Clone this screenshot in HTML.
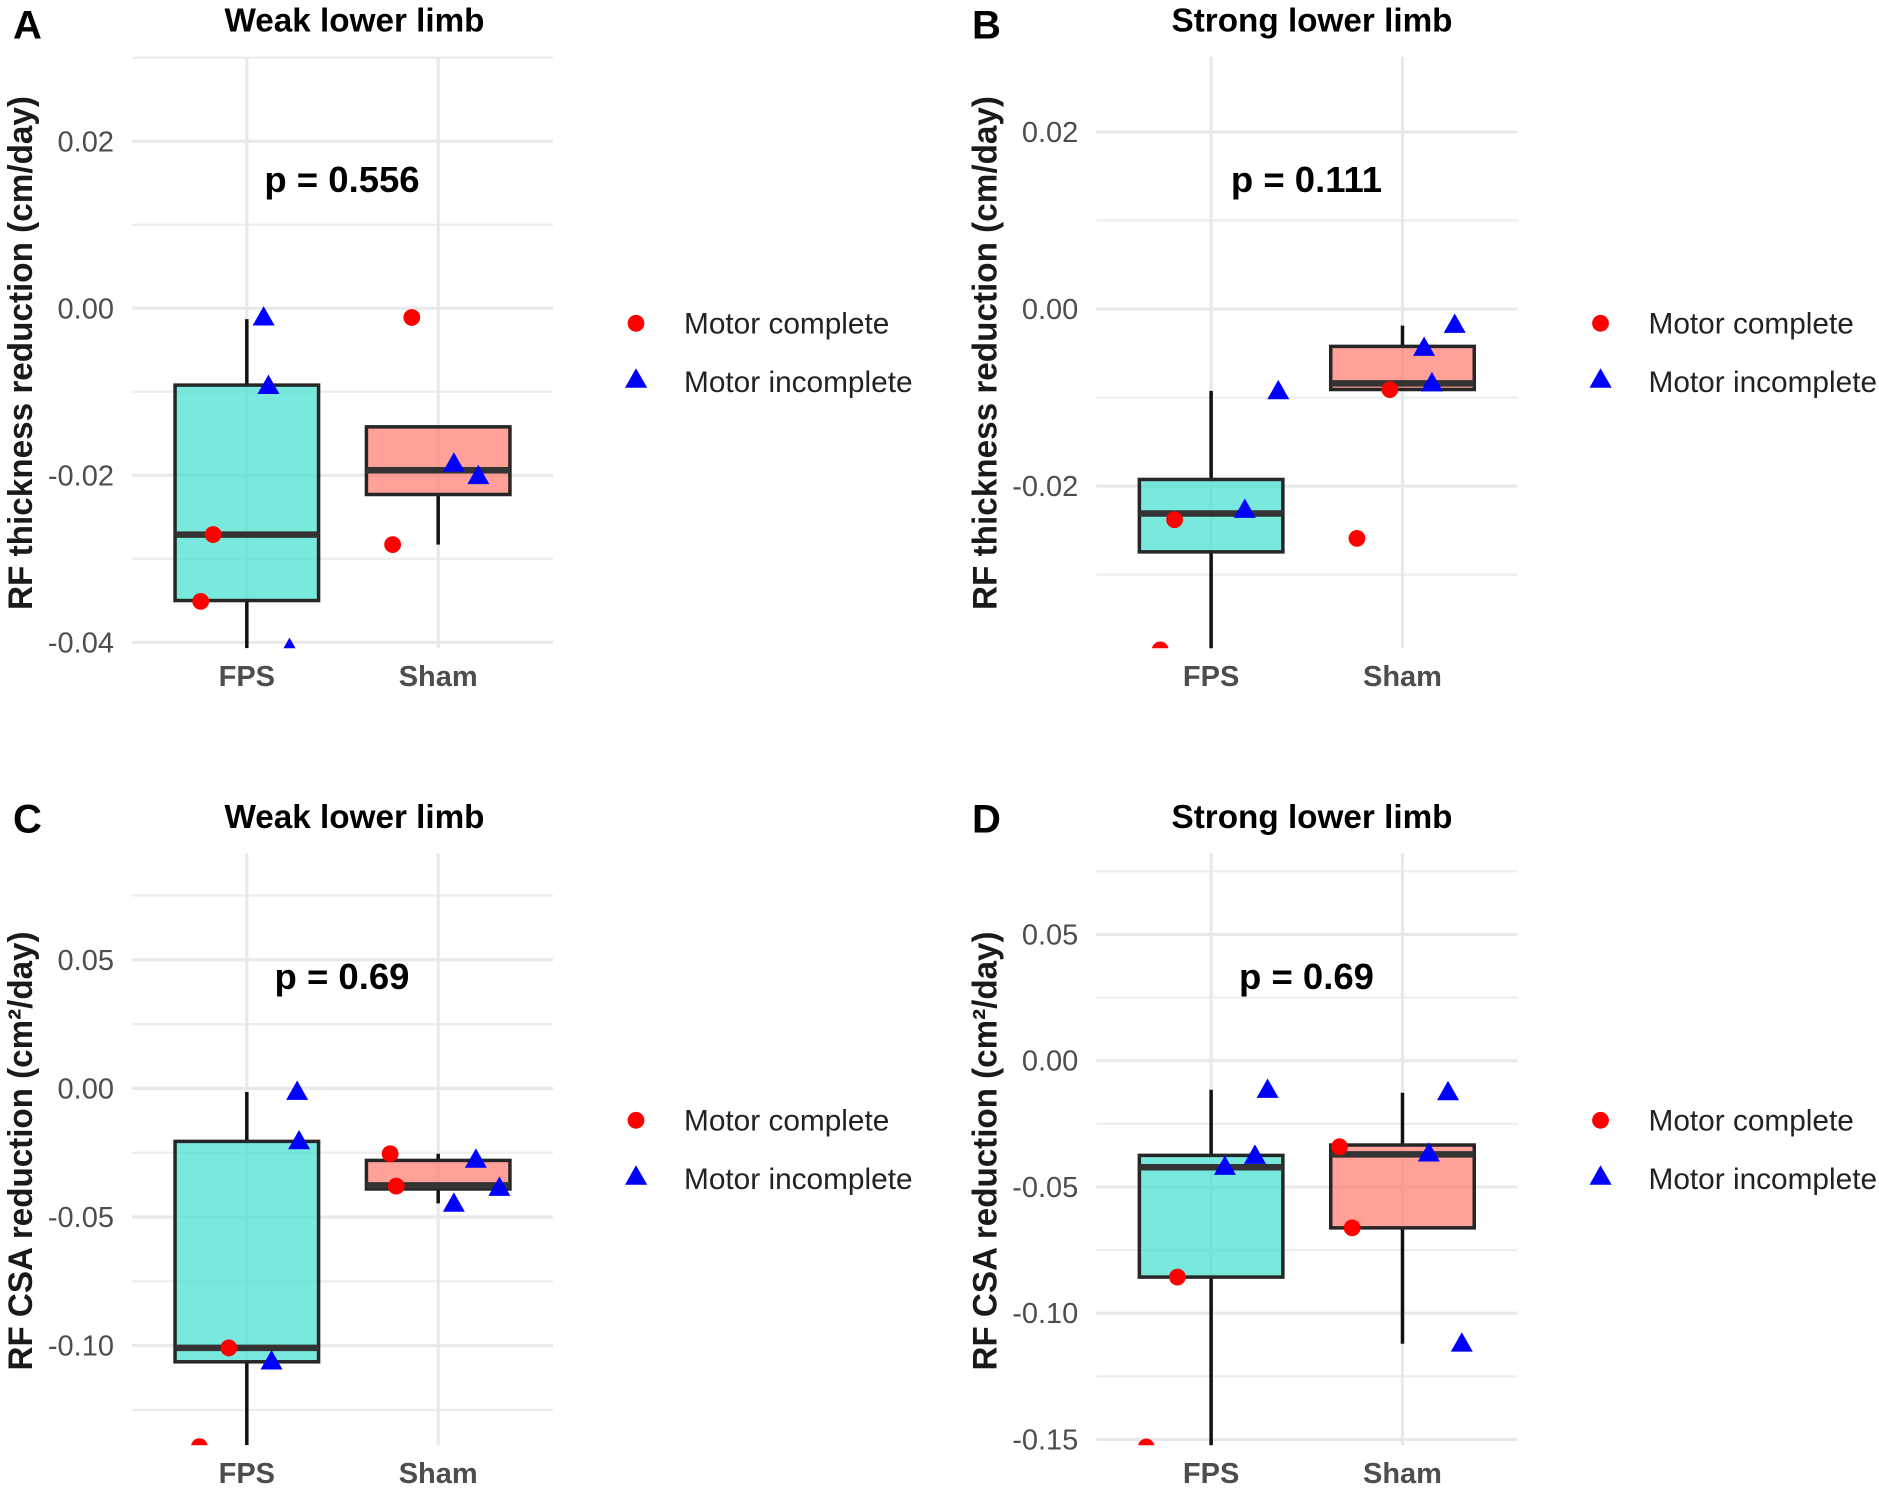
<!DOCTYPE html>
<html lang="en">
<head>
<meta charset="utf-8">
<title>RF thickness and CSA reduction box plots</title>
<style>
html,body{margin:0;padding:0;background:#fff;}
svg{display:block;font-family:"Liberation Sans",Arial,sans-serif;}
.panel-letter{font-size:40px;font-weight:700;fill:#000;}
.title{font-size:33px;font-weight:700;fill:#000;text-anchor:middle;}
.ptext{font-size:36.5px;font-weight:700;fill:#000;text-anchor:middle;}
.ytitle{font-size:34px;font-weight:700;fill:#1a1a1a;text-anchor:middle;}
.legend{font-size:29.8px;fill:#222;}
.tick{font-size:29px;fill:#4d4d4d;text-anchor:end;}
.xlab{font-size:29px;font-weight:700;fill:#4d4d4d;text-anchor:middle;}
</style>
</head>
<body>
<svg id="chart" width="1879" height="1488" viewBox="0 0 1879 1488" xmlns="http://www.w3.org/2000/svg">
  <rect width="1879" height="1488" fill="#fff"/>
  <g id="marks"></g>

  <text class="panel-letter" x="13" y="38.3">A</text>
  <text class="panel-letter" x="972" y="38.3">B</text>
  <text class="panel-letter" x="13" y="832.5">C</text>
  <text class="panel-letter" x="972" y="832.5">D</text>

  <text class="title" x="354.5" y="31.3" textLength="260" lengthAdjust="spacingAndGlyphs">Weak lower limb</text>
  <text class="title" x="1312" y="31.3" textLength="281" lengthAdjust="spacingAndGlyphs">Strong lower limb</text>
  <text class="title" x="354.5" y="828" textLength="260" lengthAdjust="spacingAndGlyphs">Weak lower limb</text>
  <text class="title" x="1312" y="828" textLength="281" lengthAdjust="spacingAndGlyphs">Strong lower limb</text>

  <text class="ptext" x="342" y="192">p = 0.556</text>
  <text class="ptext" x="1306.5" y="192">p = 0.111</text>
  <text class="ptext" x="342" y="989">p = 0.69</text>
  <text class="ptext" x="1306.5" y="989">p = 0.69</text>

  <text class="ytitle" transform="translate(32,353) rotate(-90)" textLength="514" lengthAdjust="spacingAndGlyphs">RF thickness reduction (cm/day)</text>
  <text class="ytitle" transform="translate(996.5,353) rotate(-90)" textLength="514" lengthAdjust="spacingAndGlyphs">RF thickness reduction (cm/day)</text>
  <text class="ytitle" transform="translate(32,1151) rotate(-90)" textLength="439" lengthAdjust="spacingAndGlyphs">RF CSA reduction (cm²/day)</text>
  <text class="ytitle" transform="translate(996.5,1151) rotate(-90)" textLength="439" lengthAdjust="spacingAndGlyphs">RF CSA reduction (cm²/day)</text>

  <g>
    <circle cx="636" cy="323.3" r="8.4" fill="#ff0000"/>
    <text class="legend" x="684" y="333.5">Motor complete</text>
    <polygon points="625,387.7 647.2,387.7 636,368.3" fill="#0000ff"/>
    <text class="legend" x="684" y="392">Motor incomplete</text>
  </g>
  <g>
    <circle cx="1600.5" cy="323.3" r="8.4" fill="#ff0000"/>
    <text class="legend" x="1648.5" y="333.5">Motor complete</text>
    <polygon points="1589.5,387.7 1611.7,387.7 1600.5,368.3" fill="#0000ff"/>
    <text class="legend" x="1648.5" y="392">Motor incomplete</text>
  </g>
  <g>
    <circle cx="636" cy="1120.3" r="8.4" fill="#ff0000"/>
    <text class="legend" x="684" y="1130.5">Motor complete</text>
    <polygon points="625,1184.7 647.2,1184.7 636,1165.3" fill="#0000ff"/>
    <text class="legend" x="684" y="1189">Motor incomplete</text>
  </g>
  <g>
    <circle cx="1600.5" cy="1120.3" r="8.4" fill="#ff0000"/>
    <text class="legend" x="1648.5" y="1130.5">Motor complete</text>
    <polygon points="1589.5,1184.7 1611.7,1184.7 1600.5,1165.3" fill="#0000ff"/>
    <text class="legend" x="1648.5" y="1189">Motor incomplete</text>
  </g>
</svg>
<script>
// ---- data ----
const categories = ['FPS', 'Sham'];

const aDomain = [-0.04072, 0.03013];
const aMajorTicks = [-0.04, -0.02, 0, 0.02];
const aMinorTicks = [-0.03, -0.01, 0.01, 0.03];
const aTickLabels = ['-0.04', '-0.02', '0.00', '0.02'];
const aQ1 = [-0.0350, -0.0223];
const aMedian = [-0.0271, -0.0194];
const aQ3 = [-0.0092, -0.0142];
const aWhiskerLow = [-0.0407, -0.0283];
const aWhiskerHigh = [-0.0013, -0.0142];
const aCompleteX = [0.824, 0.759, 1.862, 1.762];
const aCompleteY = [-0.0271, -0.0351, -0.0011, -0.0283];
const aIncompleteX = [1.088, 1.113, 1.223, 2.082, 2.21];
const aIncompleteY = [-0.0009, -0.0091, -0.0406, -0.0184, -0.0199];

const bDomain = [-0.03832, 0.0285];
const bMajorTicks = [-0.02, 0, 0.02];
const bMinorTicks = [-0.03, -0.01, 0.01];
const bTickLabels = ['-0.02', '0.00', '0.02'];
const bQ1 = [-0.02743, -0.00909];
const bMedian = [-0.0231, -0.0084];
const bQ3 = [-0.01925, -0.00422];
const bWhiskerLow = [-0.0384, -0.00909];
const bWhiskerHigh = [-0.00925, -0.00187];
const bCompleteX = [0.809, 0.734, 1.762, 1.934];
const bCompleteY = [-0.0238, -0.0385, -0.0259, -0.0091];
const bIncompleteX = [1.351, 1.176, 2.113, 2.154, 2.273];
const bIncompleteY = [-0.0091, -0.0225, -0.0042, -0.0082, -0.0016];

const cDomain = [-0.13876, 0.09152];
const cMajorTicks = [-0.10, -0.05, 0, 0.05];
const cMinorTicks = [-0.125, -0.075, -0.025, 0.025, 0.075];
const cTickLabels = ['-0.10', '-0.05', '0.00', '0.05'];
const cQ1 = [-0.1063, -0.0391];
const cMedian = [-0.1009, -0.0377];
const cQ3 = [-0.0206, -0.0280];
const cWhiskerLow = [-0.1387, -0.0447];
const cWhiskerHigh = [-0.0014, -0.0254];
const cCompleteX = [0.906, 0.752, 1.749, 1.781];
const cCompleteY = [-0.1009, -0.1393, -0.0254, -0.0380];
const cIncompleteX = [1.263, 1.273, 1.129, 2.197, 2.32, 2.082];
const cIncompleteY = [-0.0007, -0.0199, -0.1055, -0.0271, -0.0380, -0.0442];

const dDomain = [-0.15232, 0.08226];
const dMajorTicks = [-0.15, -0.10, -0.05, 0, 0.05];
const dMinorTicks = [-0.125, -0.075, -0.025, 0.025, 0.075];
const dTickLabels = ['-0.15', '-0.10', '-0.05', '0.00', '0.05'];
const dQ1 = [-0.0857, -0.0662];
const dMedian = [-0.0422, -0.0371];
const dQ3 = [-0.0375, -0.0334];
const dWhiskerLow = [-0.1525, -0.1121];
const dWhiskerHigh = [-0.0115, -0.0127];
const dCompleteX = [0.824, 0.661, 1.671, 1.737];
const dCompleteY = [-0.0857, -0.1530, -0.0341, -0.0662];
const dIncompleteX = [1.072, 1.229, 1.295, 2.138, 2.238, 2.31];
const dIncompleteY = [-0.0414, -0.0370, -0.0109, -0.0361, -0.0118, -0.1114];

// ---- rendering ----
const NS = 'http://www.w3.org/2000/svg';
const root = document.getElementById('marks');
function mk(tag, parent, attrs) {
  const e = document.createElementNS(NS, tag);
  for (const k in attrs) e.setAttribute(k, attrs[k]);
  parent.appendChild(e);
  return e;
}
const defs = mk('defs', root, {});

function drawPanel(id, frame, domain, majors, minors, labels, q1, med, q3, wLo, wHi, cx, cy, tx, ty) {
  const left = frame[0], right = frame[1], top = frame[2], bottom = frame[3];
  const xScale = c => left + (c - 0.4) / 2.2 * (right - left);
  const yScale = v => bottom - (v - domain[0]) / (domain[1] - domain[0]) * (bottom - top);

  const g = mk('g', root, {});
  
  

  const clip = mk('clipPath', defs, {id: 'clip-' + id});
  mk('rect', clip, {x: left, y: top, width: right - left, height: bottom - top});

  minors.forEach(v => {
    const l = mk('line', g, {x1: left, x2: right, y1: yScale(v), y2: yScale(v), stroke: '#ededed', 'stroke-width': 2.2});
    
    
  });
  majors.forEach((v, i) => {
    const l = mk('line', g, {x1: left, x2: right, y1: yScale(v), y2: yScale(v), stroke: '#e9e9e9', 'stroke-width': 3.2});
    
    
    const t = mk('text', g, {class: 'tick', x: left - 18, y: yScale(v) + 10});
    
    
    t.textContent = labels[i];
  });
  categories.forEach((c, i) => {
    const x = xScale(i + 1);
    const l = mk('line', g, {x1: x, x2: x, y1: top, y2: bottom, stroke: '#e9e9e9', 'stroke-width': 3.2});
    
    
    const t = mk('text', g, {class: 'xlab', x: x, y: bottom + 37.5});
    
    
    t.textContent = c;
  });

  const plot = mk('g', g, {'clip-path': 'url(#clip-' + id + ')'});
  const fills = ['rgba(64,224,208,0.7)', 'rgba(255,120,110,0.7)'];
  categories.forEach((c, i) => {
    const x = xScale(i + 1), hw = 0.375 / 2.2 * (right - left);
    const wh = mk('line', plot, {x1: x, x2: x, y1: yScale(wHi[i]), y2: yScale(q3[i]), stroke: '#111', 'stroke-width': 3.5});
    
    
    const wl = mk('line', plot, {x1: x, x2: x, y1: yScale(q1[i]), y2: yScale(wLo[i]), stroke: '#111', 'stroke-width': 3.5});
    
    
    const b = mk('rect', plot, {x: x - hw, y: yScale(q3[i]), width: 2 * hw, height: yScale(q1[i]) - yScale(q3[i]), fill: fills[i], stroke: '#262626', 'stroke-width': 3.5});
    
    
    const m = mk('line', plot, {x1: x - hw, x2: x + hw, y1: yScale(med[i]), y2: yScale(med[i]), stroke: '#333', 'stroke-width': 6.5});
    
    
  });
  cx.forEach((c, i) => {
    const p = mk('circle', plot, {cx: xScale(c), cy: yScale(cy[i]), r: 8.4, fill: '#ff0000'});
    
    
  });
  tx.forEach((c, i) => {
    const x = xScale(c), y = yScale(ty[i]);
    const p = mk('polygon', plot, {points: (x - 11) + ',' + (y + 9.7) + ' ' + (x + 11) + ',' + (y + 9.7) + ' ' + x + ',' + (y - 9.7), fill: '#0000ff'});
    
    
  });
}

drawPanel('a', [132, 553, 56.7, 648.3], aDomain, aMajorTicks, aMinorTicks, aTickLabels, aQ1, aMedian, aQ3, aWhiskerLow, aWhiskerHigh, aCompleteX, aCompleteY, aIncompleteX, aIncompleteY);
drawPanel('b', [1096.3, 1517.3, 56.7, 648.3], bDomain, bMajorTicks, bMinorTicks, bTickLabels, bQ1, bMedian, bQ3, bWhiskerLow, bWhiskerHigh, bCompleteX, bCompleteY, bIncompleteX, bIncompleteY);
drawPanel('c', [132, 553, 853, 1445.3], cDomain, cMajorTicks, cMinorTicks, cTickLabels, cQ1, cMedian, cQ3, cWhiskerLow, cWhiskerHigh, cCompleteX, cCompleteY, cIncompleteX, cIncompleteY);
drawPanel('d', [1096.3, 1517.3, 853, 1445.3], dDomain, dMajorTicks, dMinorTicks, dTickLabels, dQ1, dMedian, dQ3, dWhiskerLow, dWhiskerHigh, dCompleteX, dCompleteY, dIncompleteX, dIncompleteY);
</script>
</body>
</html>
